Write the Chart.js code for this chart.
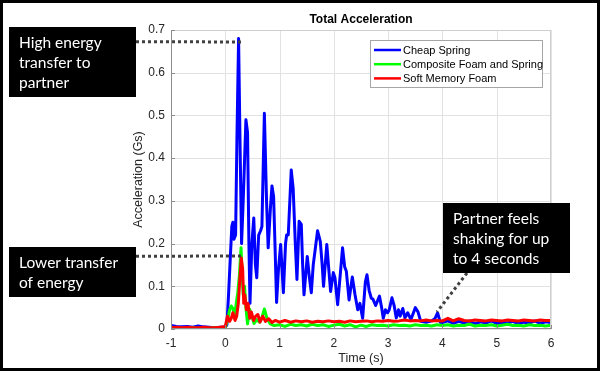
<!DOCTYPE html>
<html>
<head>
<meta charset="utf-8">
<script src="https://cdn.jsdelivr.net/npm/chart.js@4"></script>
<style>
  body { margin: 0; background: #fff; }
  #wrap { width: 600px; height: 371px; }
</style>
</head>
<body>
<div id="wrap"><canvas id="accelChart" width="600" height="371"></canvas></div>
<script>
// Time samples (s) and total acceleration (Gs)
const springTime = [-1.0, -0.9, -0.8, -0.7, -0.6, -0.5, -0.4, -0.3, -0.2, -0.1, 0.0, 0.03, 0.06, 0.09, 0.12, 0.14, 0.16, 0.19, 0.215, 0.245,
  0.27, 0.30, 0.33, 0.38, 0.41, 0.435, 0.455, 0.49, 0.525, 0.555, 0.58, 0.615, 0.65, 0.675, 0.72, 0.76, 0.79, 0.83, 0.86, 0.89,
  0.915, 0.945, 0.98, 1.02, 1.045, 1.07, 1.11, 1.13, 1.16, 1.215, 1.25, 1.29, 1.32, 1.36, 1.40, 1.425, 1.45, 1.51, 1.55, 1.585,
  1.62, 1.70, 1.75, 1.785, 1.81, 1.87, 1.90, 1.94, 1.99, 2.02, 2.07, 2.12, 2.16, 2.20, 2.23, 2.28, 2.34, 2.39, 2.44, 2.48,
  2.53, 2.58, 2.61, 2.65, 2.69, 2.72, 2.77, 2.84, 2.88, 2.91, 2.95, 2.99, 3.02, 3.07, 3.11, 3.15, 3.19, 3.22, 3.27, 3.31,
  3.36, 3.42, 3.50, 3.55, 3.60, 3.70, 3.80, 3.86, 3.91, 3.96, 4.0, 4.1, 4.2, 4.3, 4.4, 4.5, 4.6, 4.7, 4.8, 4.9,
  5.0, 5.1, 5.2, 5.3, 5.4, 5.5, 5.6, 5.7, 5.8, 5.9, 6.0];
const springAccel = [0.008, 0.006, 0.005, 0.006, 0.004, 0.007, 0.005, 0.004, 0.003, 0.004, 0.004, 0.01, 0.08, 0.16, 0.24, 0.25, 0.21, 0.22, 0.45, 0.68,
  0.45, 0.2, 0.3, 0.49, 0.46, 0.2, 0.06, 0.2, 0.26, 0.15, 0.12, 0.22, 0.23, 0.24, 0.505, 0.3, 0.19, 0.28, 0.335, 0.31,
  0.2, 0.062, 0.14, 0.198, 0.14, 0.085, 0.2, 0.22, 0.22, 0.372, 0.33, 0.2, 0.116, 0.252, 0.245, 0.15, 0.08, 0.17, 0.12, 0.085,
  0.15, 0.23, 0.205, 0.15, 0.1, 0.198, 0.15, 0.088, 0.132, 0.12, 0.057, 0.13, 0.19, 0.145, 0.135, 0.068, 0.122, 0.08, 0.045, 0.06,
  0.025, 0.11, 0.127, 0.09, 0.072, 0.07, 0.055, 0.077, 0.05, 0.025, 0.045, 0.038, 0.045, 0.073, 0.055, 0.026, 0.045, 0.03, 0.048, 0.026,
  0.038, 0.022, 0.05, 0.04, 0.018, 0.016, 0.019, 0.024, 0.038, 0.016, 0.015, 0.019, 0.013, 0.018, 0.014, 0.019, 0.012, 0.017, 0.014, 0.019,
  0.013, 0.016, 0.014, 0.018, 0.012, 0.016, 0.014, 0.019, 0.013, 0.017, 0.015];

const compositeTime = [-1.0, -0.9, -0.8, -0.7, -0.6, -0.5, -0.4, -0.3, -0.2, -0.1, 0.0, 0.04, 0.08, 0.11, 0.14, 0.17, 0.20, 0.23, 0.26, 0.29,
  0.31, 0.33, 0.355, 0.38, 0.41, 0.45, 0.49, 0.53, 0.58, 0.63, 0.67, 0.72, 0.77, 0.83, 0.9, 1.0, 1.1, 1.2, 1.3, 1.4,
  1.5, 1.6, 1.7, 1.8, 1.9, 2.0, 2.1, 2.2, 2.3, 2.4, 2.5, 2.6, 2.7, 2.8, 2.9, 3.0, 3.1, 3.2, 3.3, 3.4,
  3.5, 3.6, 3.7, 3.8, 3.9, 4.0, 4.1, 4.2, 4.3, 4.4, 4.5, 4.6, 4.7, 4.8, 4.9, 5.0, 5.1, 5.2, 5.3, 5.4,
  5.5, 5.6, 5.7, 5.8, 5.9, 6.0];
const compositeAccel = [0.004, 0.003, 0.002, 0.003, 0.003, 0.002, 0.003, 0.002, 0.003, 0.002, 0.004, 0.02, 0.045, 0.054, 0.048, 0.03, 0.058, 0.085, 0.125, 0.19,
  0.13, 0.08, 0.1, 0.05, 0.012, 0.046, 0.03, 0.013, 0.022, 0.016, 0.025, 0.047, 0.024, 0.012, 0.008, 0.01, 0.006, 0.011, 0.008, 0.01,
  0.007, 0.011, 0.008, 0.01, 0.006, 0.009, 0.011, 0.007, 0.01, 0.005, 0.009, 0.006, 0.01, 0.008, 0.009, 0.007, 0.01, 0.008, 0.009, 0.007,
  0.01, 0.008, 0.009, 0.007, 0.01, 0.008, 0.01, 0.007, 0.009, 0.008, 0.011, 0.007, 0.009, 0.008, 0.01, 0.007, 0.009, 0.011, 0.008, 0.009,
  0.007, 0.01, 0.008, 0.009, 0.007, 0.009];

const memoryTime = [-1.0, -0.9, -0.8, -0.7, -0.6, -0.5, -0.4, -0.3, -0.2, -0.1, 0.0, 0.04, 0.08, 0.11, 0.14, 0.18, 0.21, 0.24, 0.27, 0.295,
  0.32, 0.34, 0.36, 0.39, 0.42, 0.45, 0.48, 0.52, 0.56, 0.60, 0.64, 0.69, 0.74, 0.80, 0.86, 0.92, 1.0, 1.1, 1.2, 1.3,
  1.4, 1.5, 1.6, 1.7, 1.8, 1.9, 2.0, 2.1, 2.2, 2.3, 2.4, 2.5, 2.6, 2.7, 2.8, 2.9, 3.0, 3.1, 3.2, 3.3,
  3.4, 3.5, 3.6, 3.7, 3.8, 3.9, 4.0, 4.1, 4.2, 4.3, 4.4, 4.5, 4.6, 4.7, 4.8, 4.9, 5.0, 5.1, 5.2, 5.3,
  5.4, 5.5, 5.6, 5.7, 5.8, 5.9, 6.0];
const memoryAccel = [0.003, 0.004, 0.003, 0.004, 0.003, 0.003, 0.004, 0.003, 0.003, 0.004, 0.006, 0.03, 0.018, 0.025, 0.038, 0.02, 0.03, 0.06, 0.12, 0.166,
  0.14, 0.06, 0.08, 0.045, 0.06, 0.025, 0.04, 0.02, 0.03, 0.034, 0.016, 0.03, 0.018, 0.024, 0.015, 0.02, 0.016, 0.02, 0.016, 0.019,
  0.017, 0.019, 0.016, 0.018, 0.017, 0.019, 0.017, 0.018, 0.016, 0.019, 0.017, 0.018, 0.019, 0.017, 0.019, 0.018, 0.02, 0.018, 0.019, 0.021,
  0.019, 0.02, 0.019, 0.021, 0.019, 0.02, 0.019, 0.025, 0.019, 0.024, 0.02, 0.019, 0.021, 0.02, 0.019, 0.021, 0.02, 0.019, 0.021, 0.02,
  0.019, 0.021, 0.02, 0.019, 0.021, 0.02, 0.02];

const seriesNames = ['Cheap Spring', 'Composite Foam and Spring', 'Soft Memory Foam'];
const seriesColors = ['#0000ff', '#00ff00', '#ff0000'];
const xTicks = [-1, 0, 1, 2, 3, 4, 5, 6];
const yTicks = [0, 0.1, 0.2, 0.3, 0.4, 0.5, 0.6, 0.7];

// callouts: text lines, box in page pixels, and the data point the dotted leader points at
const callouts = [
  { lines: ['High energy', 'transfer to', 'partner'], box: [9, 27, 127, 70], from: [136, 41.7], to: [0.30, 0.672] },
  { lines: ['Lower transfer', 'of energy'], box: [9, 247, 127, 50], from: [136, 256.3], to: [0.30, 0.171] },
  { lines: ['Partner feels', 'shaking for up', 'to 4 seconds'], box: [443, 203, 127, 70], from: [467, 273], to: [3.9, 0.04] }
];

function pairs(xs, ys) {
  return xs.map((t, i) => ({ x: t, y: ys[i] }));
}

const AXIS_FONT = '"Liberation Sans", Arial, sans-serif';
const NOTE_FONT = 'Lato, "Open Sans", sans-serif';

const decorPlugin = {
  id: 'decor',
  // light grid behind the lines
  beforeDatasetsDraw(chart) {
    const ctx = chart.ctx;
    const area = chart.chartArea;
    const xs = chart.scales.x, ys = chart.scales.y;
    ctx.save();
    ctx.strokeStyle = '#e2e2e2';
    ctx.lineWidth = 1;
    ctx.beginPath();
    xTicks.forEach(v => {
      const px = Math.round(xs.getPixelForValue(v)) + 0.5;
      ctx.moveTo(px, area.top); ctx.lineTo(px, area.bottom);
    });
    yTicks.forEach(v => {
      const py = Math.round(ys.getPixelForValue(v)) + 0.5;
      ctx.moveTo(area.left, py); ctx.lineTo(area.right, py);
    });
    ctx.stroke();
    ctx.restore();
  },
  afterDraw(chart) {
    const ctx = chart.ctx;
    const area = chart.chartArea;
    const xs = chart.scales.x, ys = chart.scales.y;
    ctx.save();

    // axes box with inward ticks
    ctx.lineWidth = 1;
    ctx.strokeStyle = '#cfcfcf';
    ctx.beginPath();
    ctx.moveTo(area.left, area.top + 0.5); ctx.lineTo(area.right - 0.5, area.top + 0.5);
    ctx.lineTo(area.right - 0.5, area.bottom);
    ctx.stroke();
    ctx.strokeStyle = '#8c8c8c';
    ctx.beginPath();
    ctx.moveTo(area.left + 0.5, area.top); ctx.lineTo(area.left + 0.5, area.bottom - 0.5);
    ctx.lineTo(area.right, area.bottom - 0.5);
    xTicks.forEach(v => {
      const px = Math.round(xs.getPixelForValue(v)) + 0.5;
      ctx.moveTo(px, area.bottom); ctx.lineTo(px, area.bottom - 4);
    });
    yTicks.forEach(v => {
      const py = Math.round(ys.getPixelForValue(v)) + 0.5;
      ctx.moveTo(area.left, py); ctx.lineTo(area.left + 4, py);
    });
    ctx.stroke();

    // title and axis titles
    ctx.fillStyle = '#000';
    ctx.textAlign = 'center';
    ctx.textBaseline = 'middle';
    ctx.font = 'bold 12px ' + AXIS_FONT;
    ctx.fillText('Total Acceleration', (area.left + area.right) / 2, 20);
    ctx.fillStyle = '#262626';
    ctx.font = '12.5px ' + AXIS_FONT;
    ctx.fillText('Time (s)', (area.left + area.right) / 2, 359);
    ctx.save();
    ctx.translate(139, (area.top + area.bottom) / 2);
    ctx.rotate(-Math.PI / 2);
    ctx.fillText('Acceleration (Gs)', 0, 0);
    ctx.restore();

    // legend
    const lx = area.right - 181, ly = area.top + 10, lw = 172, lh = 47;
    ctx.fillStyle = '#fff';
    ctx.fillRect(lx, ly, lw, lh);
    ctx.strokeStyle = '#a6a6a6';
    ctx.lineWidth = 1;
    ctx.strokeRect(lx + 0.5, ly + 0.5, lw, lh);
    ctx.font = '11px ' + AXIS_FONT;
    ctx.textAlign = 'left';
    seriesNames.forEach((name, i) => {
      const yy = ly + 10 + i * 14.2;
      ctx.strokeStyle = seriesColors[i];
      ctx.lineWidth = 2.5;
      ctx.beginPath();
      ctx.moveTo(lx + 4, yy); ctx.lineTo(lx + 31, yy);
      ctx.stroke();
      ctx.fillStyle = '#000';
      ctx.fillText(name, lx + 33, yy + 0.5);
    });

    // dotted leaders
    ctx.strokeStyle = '#404040';
    ctx.lineWidth = 3;
    ctx.setLineDash([3, 3]);
    callouts.forEach(c => {
      ctx.beginPath();
      ctx.moveTo(c.from[0], c.from[1]);
      ctx.lineTo(xs.getPixelForValue(c.to[0]), ys.getPixelForValue(c.to[1]));
      ctx.stroke();
    });
    ctx.setLineDash([]);

    // callout boxes
    ctx.font = '15.5px ' + NOTE_FONT;
    ctx.textAlign = 'left';
    callouts.forEach(c => {
      const [bx, by, bw, bh] = c.box;
      ctx.fillStyle = '#000';
      ctx.fillRect(bx, by, bw, bh);
      ctx.fillStyle = '#fff';
      const first = c.lines.length === 3 ? by + 15.5 : by + 16;
      c.lines.forEach((t, i) => ctx.fillText(t, bx + 10, first + i * 20));
    });

    // outer frame
    ctx.strokeStyle = '#000';
    ctx.lineWidth = 3;
    ctx.strokeRect(1.5, 1.5, 597, 368);
    ctx.restore();
  }
};

new Chart(document.getElementById('accelChart'), {
  type: 'line',
  data: {
    datasets: [
      { label: seriesNames[0], data: pairs(springTime, springAccel), borderColor: seriesColors[0], order: 2 },
      { label: seriesNames[1], data: pairs(compositeTime, compositeAccel), borderColor: seriesColors[1], order: 1 },
      { label: seriesNames[2], data: pairs(memoryTime, memoryAccel), borderColor: seriesColors[2], order: 0 }
    ]
  },
  options: {
    responsive: false,
    animation: false,
    devicePixelRatio: 1,
    layout: { padding: { left: 0, right: 49, top: 30, bottom: 0 } },
    elements: {
      point: { radius: 0 },
      line: { borderWidth: 3, tension: 0, borderJoinStyle: 'round', borderCapStyle: 'round' }
    },
    plugins: { legend: { display: false }, tooltip: { enabled: false }, title: { display: false } },
    scales: {
      x: {
        type: 'linear',
        min: -1, max: 6,
        afterBuildTicks: s => { s.ticks = xTicks.map(v => ({ value: v })); },
        afterFit: s => { s.height = 42; },
        grid: { display: false, drawTicks: false },
        border: { display: false },
        ticks: { padding: 7, autoSkip: false, color: '#262626', font: { family: AXIS_FONT, size: 12 }, maxRotation: 0, callback: v => String(v) }
      },
      y: {
        min: 0, max: 0.7,
        afterBuildTicks: s => { s.ticks = yTicks.map(v => ({ value: v })); },
        afterFit: s => { s.width = 171; },
        grid: { display: false, drawTicks: false },
        border: { display: false },
        ticks: { padding: 6, autoSkip: false, color: '#262626', font: { family: AXIS_FONT, size: 12 }, callback: v => String(+v.toFixed(1)) }
      }
    }
  },
  plugins: [decorPlugin]
});
</script>
</body>
</html>
